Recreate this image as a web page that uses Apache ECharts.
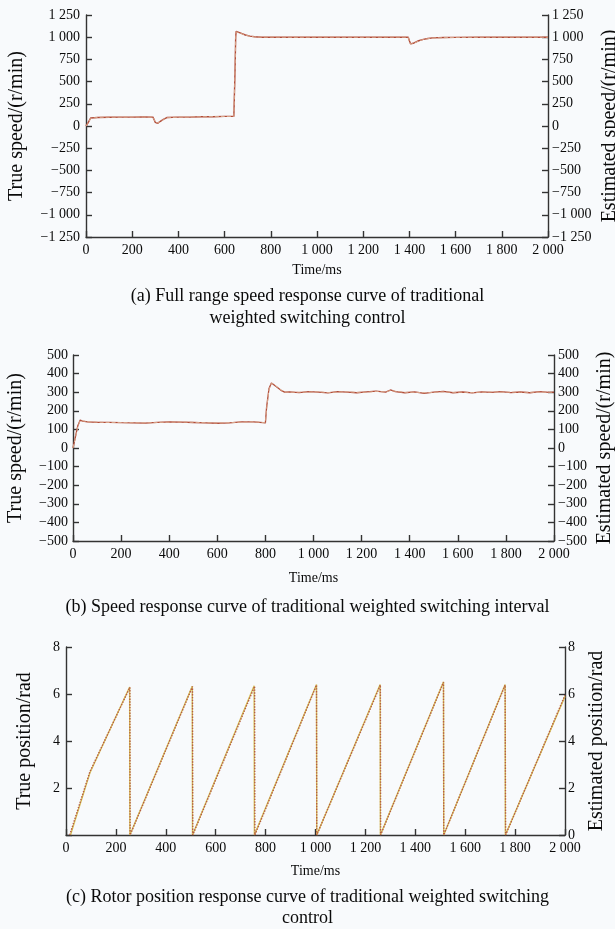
<!DOCTYPE html>
<html>
<head>
<meta charset="utf-8">
<script src="https://cdn.jsdelivr.net/npm/echarts@6/dist/echarts.min.js"></script>
<style>
html,body{margin:0;padding:0;background:#f8fafc;}
#c{width:615px;height:929px;}
</style>
</head>
<body>
<div id="c"></div>
<script>
// ---------- Data ----------
// (a) Full range speed response (time in ms, speed in r/min)
const aTime = [0, 10, 20, 25, 50, 100, 150, 200, 250, 290, 295, 300, 305, 310, 320, 335, 350, 400, 450, 500, 550, 600, 640, 645, 648, 650, 655, 670, 690, 710, 730, 760, 800, 900, 1000, 1100, 1200, 1300, 1395, 1400, 1405, 1410, 1420, 1440, 1460, 1480, 1500, 1550, 1600, 1700, 1800, 1900, 2000];
const aTrue = [0, 40, 90, 100, 95, 98, 100, 100, 102, 100, 70, 40, 25, 30, 50, 75, 95, 100, 100, 105, 105, 108, 108, 600, 1000, 1065, 1060, 1045, 1025, 1012, 1005, 1000, 1000, 1000, 1000, 1000, 1000, 1000, 1000, 960, 925, 920, 935, 960, 975, 985, 992, 996, 998, 1000, 1000, 1000, 1000];
const aEst = [0, 35, 85, 98, 97, 99, 100, 101, 101, 100, 75, 45, 32, 33, 48, 72, 93, 99, 101, 104, 106, 107, 108, 580, 990, 1060, 1058, 1043, 1024, 1011, 1004, 1000, 1001, 999, 1001, 1000, 999, 1001, 1000, 955, 922, 918, 933, 958, 974, 984, 991, 995, 998, 999, 1001, 1000, 1000];

// (b) Speed response in switching interval
const bTime = [0, 10, 20, 30, 40, 60, 100, 150, 200, 250, 300, 350, 400, 450, 500, 550, 600, 650, 700, 750, 790, 800, 805, 815, 825, 835, 850, 865, 880, 900, 940, 980, 1020, 1060, 1100, 1140, 1180, 1220, 1260, 1300, 1320, 1340, 1380, 1420, 1460, 1500, 1540, 1580, 1620, 1660, 1700, 1740, 1780, 1820, 1860, 1900, 1940, 1980, 2000];
const bTrue = [0, 60, 120, 150, 145, 140, 138, 138, 136, 135, 134, 138, 140, 139, 137, 135, 133, 135, 140, 140, 136, 135, 220, 320, 350, 340, 325, 310, 300, 302, 298, 303, 300, 296, 303, 300, 297, 302, 306, 300, 312, 303, 297, 302, 294, 300, 304, 297, 301, 296, 302, 299, 303, 298, 301, 297, 303, 299, 300];
const bEst = [0, 55, 115, 148, 146, 141, 139, 137, 137, 136, 135, 137, 139, 140, 138, 136, 134, 136, 139, 141, 137, 136, 210, 315, 348, 342, 327, 312, 301, 300, 300, 301, 302, 298, 301, 302, 299, 300, 304, 302, 309, 305, 299, 300, 297, 299, 302, 299, 300, 298, 300, 301, 301, 300, 300, 299, 301, 300, 300];

// (c) Rotor position (rad)
const cTime = [15, 96, 256, 257, 507, 508, 756, 757, 1004, 1005, 1260, 1261, 1513, 1514, 1760, 1762, 2000];
const cTrue = [0, 2.7, 6.28, 0, 6.32, 0, 6.33, 0, 6.38, 0, 6.38, 0, 6.5, 0, 6.38, 0, 5.95];
const cEstTime = [18, 96, 255, 256, 506, 507, 754, 755, 1004, 1005, 1259, 1260, 1513, 1514, 1760, 1761, 2000];
const cEst = [0, 2.65, 6.3, 0, 6.33, 0, 6.35, 0, 6.4, 0, 6.4, 0, 6.52, 0, 6.4, 0, 5.9];

// Axis tick settings [min, max, interval]
const xTicks = [0, 2000, 200];
const aYTicks = [-1250, 1250, 250];
const bYTicks = [-500, 500, 100];
const cYTicks = [0, 8, 2];

// Texts
const xName = 'Time/ms';
const aLeftName = 'True speed/(r/min)';
const aRightName = 'Estimated speed/(r/min)';
const cLeftName = 'True position/rad';
const cRightName = 'Estimated position/rad';
const captions = [
  ['(a) Full range speed response curve of traditional', 'weighted switching control'],
  ['(b) Speed response curve of traditional weighted switching interval'],
  ['(c) Rotor position response curve of traditional weighted switching', 'control']
];

// ---------- Helpers ----------
const FONT = 'Liberation Serif';
function fmt(v) {
  const a = Math.abs(v);
  let s = a >= 1000 ? Math.floor(a / 1000) + ' ' + String(a % 1000).padStart(3, '0') : String(a);
  return (v < 0 ? '\u2212' : '') + s;
}
function pairs(t, v) { return t.map((x, i) => [x, v[i]]); }

const axisLineStyle = { color: '#333', width: 1.4 };
const labelStyle = { fontFamily: FONT, fontSize: 14, color: '#0a0a0a' };
const nameStyle = { fontFamily: FONT, fontSize: 20, color: '#0a0a0a' };

function xAxis(gi, gap) {
  return {
    type: 'value', gridIndex: gi, min: xTicks[0], max: xTicks[1], interval: xTicks[2],
    name: xName, nameLocation: 'middle', nameGap: gap, nameMoveOverlap: false,
    nameTextStyle: { fontFamily: FONT, fontSize: 14, color: '#0a0a0a' },
    axisLine: { show: true, lineStyle: axisLineStyle, onZero: false },
    axisTick: { show: true, inside: true, length: 6, lineStyle: axisLineStyle },
    axisLabel: Object.assign({ margin: 6, formatter: fmt }, labelStyle),
    splitLine: { show: false }
  };
}
function yAxis(gi, ticks, pos, name, gap, labMargin, hideZero) {
  return {
    type: 'value', gridIndex: gi, position: pos, min: ticks[0], max: ticks[1], interval: ticks[2],
    name: name, nameLocation: 'middle', nameGap: gap, nameRotate: 90, nameMoveOverlap: false,
    nameTextStyle: nameStyle,
    axisLine: { show: true, lineStyle: axisLineStyle, onZero: false },
    axisTick: { show: true, inside: true, length: 6, lineStyle: axisLineStyle },
    axisLabel: Object.assign({ margin: labMargin, formatter: v => (hideZero && v === 0) ? '' : fmt(v) }, labelStyle),
    splitLine: { show: false }
  };
}
function line(xi, yi, data, color, type, width) {
  return {
    type: 'line', xAxisIndex: xi, yAxisIndex: yi, data: data, symbol: 'none',
    lineStyle: { color: color, type: type, width: width }, silent: true, z: 3
  };
}
function captionText(lines, tops) {
  return lines.map((t, i) => ({
    type: 'text', left: 'center', top: tops[i],
    style: { text: t, font: '18px "' + FONT + '"', fill: '#0a0a0a' }
  }));
}

const option = {
  backgroundColor: '#f8fafc',
  animation: false,
  grid: [
    { left: 86, top: 15, width: 462, height: 222, outerBoundsMode: 'none', containLabel: false },
    { left: 73, top: 355, width: 481, height: 186, outerBoundsMode: 'none', containLabel: false },
    { left: 66, top: 647, width: 499, height: 188, outerBoundsMode: 'none', containLabel: false }
  ],
  xAxis: [xAxis(0, 26), xAxis(1, 30), xAxis(2, 29)],
  yAxis: [
    yAxis(0, aYTicks, 'left', aLeftName, 59, 6, false),
    yAxis(0, aYTicks, 'right', aRightName, 52, 4, false),
    yAxis(1, bYTicks, 'left', aLeftName, 47, 5, false),
    yAxis(1, bYTicks, 'right', aRightName, 41, 4, false),
    yAxis(2, cYTicks, 'left', cLeftName, 31, 6, true),
    yAxis(2, cYTicks, 'right', cRightName, 22, 3, false)
  ],
  series: [
    line(0, 0, pairs(aTime, aTrue), '#b04a38', 'solid', 1.4),
    line(0, 1, pairs(aTime, aEst), '#d9a58a', 'dashed', 1),
    line(1, 2, pairs(bTime, bTrue), '#b04a38', 'solid', 1.3),
    line(1, 3, pairs(bTime, bEst), '#d9a58a', 'dashed', 1),
    line(2, 5, pairs(cEstTime, cEst), '#d6c05a', 'solid', 1.4),
    line(2, 4, pairs(cTime, cTrue), '#b55a45', 'dotted', 1.4)
  ],
  graphic: [].concat(
    captionText(captions[0], [287, 309]),
    captionText(captions[1], [598]),
    captionText(captions[2], [888, 909])
  )
};

const chart = echarts.init(document.getElementById('c'), null, { renderer: 'canvas' });
chart.setOption(option);
</script>
</body>
</html>
